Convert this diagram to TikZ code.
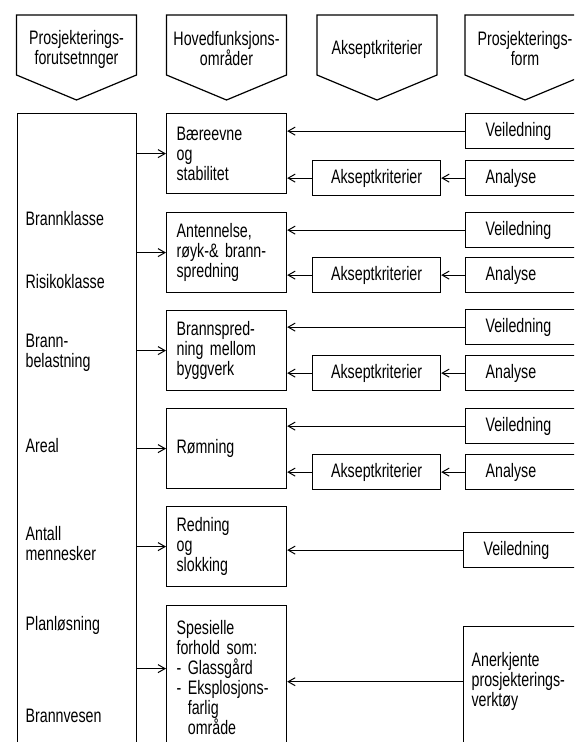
\documentclass[tikz,border=0pt]{standalone}
\usepackage{fontspec}
\setmainfont{Liberation Sans}[FakeStretch=0.73]
\usetikzlibrary{arrows.meta}

% column head: centre x, name, text
\newcommand{\colhead}[3]{%
  \draw (#1-60,15) -- (#1+60,15) -- (#1+60,75) -- (#1,100) -- (#1-60,75) -- cycle;
  \node[headtext] (#2) at (#1,49) {#3};}

\begin{document}
\begin{tikzpicture}[x=1pt, y=-1pt, line width=1.2pt,
    font=\fontsize{19.5}{20}\selectfont,
    arr/.style={-{Straight Barb[length=7pt,width=8pt]}, line width=1pt},
    headtext/.style={align=center, inner sep=0pt},
    factlabel/.style={anchor=north west, align=left, inner sep=0pt},
    box/.style={draw, anchor=north west, inner ysep=0pt, align=left},
    midbox/.style={box, text width=100pt, inner xsep=10pt, minimum height=80pt},
    guide/.style={box, text width=100pt, inner xsep=20pt, minimum height=35pt},
    accbox/.style={draw, anchor=north west, inner sep=0pt, minimum width=128pt, minimum height=35pt}]
    \clip (0,0) rectangle (574,742);

    % column heads
    \colhead{76.5}{headpre}{Prosjekterings-\\forutsetnnger}
    \colhead{226.5}{headmain}{Hovedfunksjons-\\områder}
    \colhead{377}{headacc}{Akseptkriterier}
    \colhead{525}{headform}{Prosjekterings-\\form}

    % premises
    \node[draw, anchor=north west, minimum width=119pt, minimum height=660pt] (fact) at (17,113) {};
    \node[factlabel] (fclass) at (25,211) {Brannklasse};
    \node[factlabel] (frisk) at (25,274) {Risikoklasse};
    \node[factlabel] (fload) at (25,333) {Brann-\\belastning};
    \node[factlabel] (farea) at (25,438) {Areal};
    \node[factlabel] (fpeople) at (25,526) {Antall\\mennesker};
    \node[factlabel] (fplan) at (25,616) {Planløsning};
    \node[factlabel] (fbrigade) at (25,708) {Brannvesen};

    % main functional areas
    \node[midbox] (bear) at (166,113) {Bæreevne\\og\\stabilitet};
    \node[midbox] (ignite) at (166,212) {Antennelse,\\røyk-\& brann-\\spredning};
    \node[midbox] (spread) at (166,310) {Brannspred-\\ning mellom\\byggverk};
    \node[midbox] (escape) at (166,408) {Rømning};
    \node[midbox] (rescue) at (166,506) {Redning\\og\\slokking};
    \node[midbox, minimum height=144pt] (special) at (166,605)
        {Spesielle\\forhold som:\\- Glassgård\\- Eksplosjons-\\\hphantom{- }farlig\\\hphantom{- }område};

    % acceptance criteria
    \node[accbox] (acc1) at (312,160) {Akseptkriterier};
    \node[accbox] (acc2) at (312,257) {Akseptkriterier};
    \node[accbox] (acc3) at (312,355) {Akseptkriterier};
    \node[accbox] (acc4) at (312,454) {Akseptkriterier};

    % design form
    \node[guide] (guide1) at (465,113) {Veiledning};
    \node[guide] (anal1) at (465,160) {Analyse};
    \node[guide] (guide2) at (465,212) {Veiledning};
    \node[guide] (anal2) at (465,257) {Analyse};
    \node[guide] (guide3) at (465,309) {Veiledning};
    \node[guide] (anal3) at (465,355) {Analyse};
    \node[guide] (guide4) at (465,408) {Veiledning};
    \node[guide] (anal4) at (465,454) {Analyse};
    \node[guide] (guide5) at (463,532) {Veiledning};
    \node[draw, anchor=north west, minimum width=140pt, minimum height=140pt] (tool) at (463,626) {};
    \node[factlabel] (tooltext) at (471,652) {Anerkjente\\prosjekterings-\\verktøy};

    % connectors
    \foreach \m in {bear, ignite, spread, escape, rescue}
        \draw[arr] (fact.east |- \m.west) -- (\m.west);
    \coordinate (special-in) at ([yshift=9pt]special.west);
    \draw[arr] (fact.east |- special-in) -- (special-in);

    \foreach \g/\m in {guide1/bear, guide2/ignite, guide3/spread, guide4/escape, guide5/rescue}
        \draw[arr] (\g.west) -- (\m.east |- \g.west);
    \foreach \a/\c/\m in {anal1/acc1/bear, anal2/acc2/ignite, anal3/acc3/spread, anal4/acc4/escape} {
        \draw[arr] (\a.west) -- (\c.east);
        \draw[arr] (\c.west) -- (\m.east |- \c.west);
    }
    \draw[arr] (tool.west |- tooltext) -- (special.east |- tooltext);
\end{tikzpicture}
\end{document}
